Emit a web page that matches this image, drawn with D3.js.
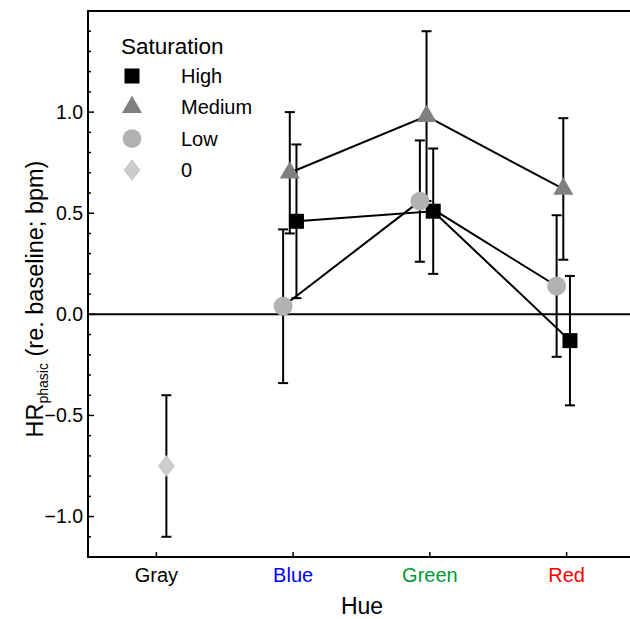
<!DOCTYPE html>
<html>
<head>
<meta charset="utf-8">
<script src="https://cdn.jsdelivr.net/npm/d3@7"></script>
<style>
  body { margin: 0; background: #fff; }
  text { font-family: "Liberation Sans", Arial, sans-serif; }
</style>
</head>
<body>
<div id="chart"></div>
<script>
// categories and groups
var hues = ["Gray", "Blue", "Green", "Red"];
var hueColors = ["#000000", "#0000ff", "#009933", "#ff0000"];
var saturations = ["High", "Medium", "Low", "0"];
var dodgeOrder = ["Low", "Medium", "High", "0"];

// series values: mean, lower and upper error bar ends
var highHue = ["Blue", "Green", "Red"];
var highMean = [0.46, 0.51, -0.13];
var highLow = [0.08, 0.20, -0.45];
var highHigh = [0.84, 0.82, 0.19];

var mediumHue = ["Blue", "Green", "Red"];
var mediumMean = [0.70, 0.98, 0.62];
var mediumLow = [0.40, 0.56, 0.27];
var mediumHigh = [1.00, 1.40, 0.97];

var lowHue = ["Blue", "Green", "Red"];
var lowMean = [0.04, 0.56, 0.14];
var lowLow = [-0.34, 0.26, -0.21];
var lowHigh = [0.42, 0.86, 0.49];

var zeroHue = ["Gray"];
var zeroMean = [-0.75];
var zeroLow = [-1.10];
var zeroHigh = [-0.40];

var yTicks = [-1.0, -0.5, 0.0, 0.5, 1.0];

// set the dimensions and margins
var margin = { top: 11, right: -5, bottom: 62, left: 88 },
    width = 630 - margin.left - margin.right,
    height = 619 - margin.top - margin.bottom;

var svg = d3.select("#chart")
    .append("svg")
    .attr("width", 630)
    .attr("height", 619)
    .append("g")
    .attr("transform", "translate(" + margin.left + "," + margin.top + ")");

var x = d3.scalePoint().domain(hues).range([0, width]).padding(0.5);
var dodge = d3.scalePoint().domain(dodgeOrder).range([-10, 10]);
var y = d3.scaleLinear().domain([-1.2, 1.5]).range([height, 0]);

function build(sat, hs, m, lo, hi) {
    return hs.map(function (h, i) {
        return { sat: sat, hue: h, mean: m[i], lo: lo[i], hi: hi[i] };
    });
}
var series = [
    build("High", highHue, highMean, highLow, highHigh),
    build("Medium", mediumHue, mediumMean, mediumLow, mediumHigh),
    build("Low", lowHue, lowMean, lowLow, lowHigh),
    build("0", zeroHue, zeroMean, zeroLow, zeroHigh)
];
var allPoints = [].concat.apply([], series);

function px(d) { return x(d.hue) + dodge(d.sat); }

var fills = { "High": "#000000", "Medium": "#808080", "Low": "#b2b2b2", "0": "#cccccc" };

function shape(sat) {
    if (sat === "High") return d3.symbol().type(d3.symbolSquare).size(225)();
    if (sat === "Medium") return d3.symbol().type(d3.symbolTriangle).size(175)();
    if (sat === "Low") return d3.symbol().type(d3.symbolCircle).size(280)();
    return "M0,-11L8.5,0L0,11L-8.5,0Z";
}

// zero line
svg.append("line")
    .attr("x1", 0).attr("x2", width)
    .attr("y1", y(0)).attr("y2", y(0))
    .attr("stroke", "black").attr("stroke-width", 2);

// connecting lines
var line = d3.line().x(px).y(function (d) { return y(d.mean); });
svg.selectAll(".series")
    .data(series.filter(function (s) { return s.length > 1; }))
    .enter().append("path")
    .attr("fill", "none")
    .attr("stroke", "black")
    .attr("stroke-width", 2)
    .attr("d", line);

// error bars
var eb = svg.selectAll(".eb").data(allPoints).enter().append("g");
eb.append("line")
    .attr("x1", px).attr("x2", px)
    .attr("y1", function (d) { return y(d.lo); })
    .attr("y2", function (d) { return y(d.hi); })
    .attr("stroke", "black").attr("stroke-width", 2);
eb.append("line")
    .attr("x1", function (d) { return px(d) - 5; })
    .attr("x2", function (d) { return px(d) + 5; })
    .attr("y1", function (d) { return y(d.lo); })
    .attr("y2", function (d) { return y(d.lo); })
    .attr("stroke", "black").attr("stroke-width", 2);
eb.append("line")
    .attr("x1", function (d) { return px(d) - 5; })
    .attr("x2", function (d) { return px(d) + 5; })
    .attr("y1", function (d) { return y(d.hi); })
    .attr("y2", function (d) { return y(d.hi); })
    .attr("stroke", "black").attr("stroke-width", 2);

// markers
svg.selectAll(".pt").data(allPoints).enter().append("path")
    .attr("transform", function (d) { return "translate(" + px(d) + "," + y(d.mean) + ")"; })
    .attr("d", function (d) { return shape(d.sat); })
    .attr("fill", function (d) { return fills[d.sat]; });

// frame: left, top, bottom
svg.append("path")
    .attr("d", "M" + width + ",0H0V" + height + "H" + width)
    .attr("fill", "none").attr("stroke", "black").attr("stroke-width", 2);

// Y axis ticks (inward), minor every 0.1
var minor = d3.range(-12, 16).map(function (v) { return v / 10; })
    .filter(function (v) { return Math.abs(v * 2 - Math.round(v * 2)) > 1e-6; });
svg.selectAll(".ymin").data(minor).enter().append("line")
    .attr("x1", 0).attr("x2", 3)
    .attr("y1", function (d) { return y(d); }).attr("y2", function (d) { return y(d); })
    .attr("stroke", "black").attr("stroke-width", 1.5);
svg.selectAll(".ymaj").data(yTicks).enter().append("line")
    .attr("x1", 0).attr("x2", 6)
    .attr("y1", function (d) { return y(d); }).attr("y2", function (d) { return y(d); })
    .attr("stroke", "black").attr("stroke-width", 1.5);
svg.selectAll(".ylab").data(yTicks).enter().append("text")
    .attr("x", -5)
    .attr("y", function (d) { return y(d) + 6.5; })
    .attr("text-anchor", "end")
    .attr("font-size", 19.5)
    .text(function (d) { return d3.format(".1f")(d).replace("-", "\u2212"); });

// X axis ticks (inward)
svg.selectAll(".xt").data(hues).enter().append("line")
    .attr("x1", function (d) { return x(d); }).attr("x2", function (d) { return x(d); })
    .attr("y1", height).attr("y2", height - 5)
    .attr("stroke", "black").attr("stroke-width", 1.5);
svg.selectAll(".xlab").data(hues).enter().append("text")
    .attr("x", function (d) { return x(d); })
    .attr("y", height + 25)
    .attr("text-anchor", "middle")
    .attr("font-size", 20)
    .attr("fill", function (d, i) { return hueColors[i]; })
    .text(function (d) { return d; });

// axis titles
svg.append("text")
    .attr("x", 362 - margin.left)
    .attr("y", 614 - margin.top)
    .attr("text-anchor", "middle")
    .attr("font-size", 23)
    .text("Hue");

var yTitle = svg.append("text")
    .attr("transform", "translate(" + (43 - margin.left) + "," + (299 - margin.top) + ") rotate(-90)")
    .attr("text-anchor", "middle")
    .attr("font-size", 23.5);
yTitle.append("tspan").text("HR");
yTitle.append("tspan").attr("font-size", 14).attr("dy", 5).text("phasic");
yTitle.append("tspan").attr("dy", -5).text(" (re. baseline; bpm)");

// legend
var legend = svg.append("g").attr("transform", "translate(" + (121 - margin.left) + "," + (54 - margin.top) + ")");
legend.append("text").attr("x", 0).attr("y", 0).attr("font-size", 22.5).text("Saturation");
var items = legend.selectAll(".li").data(saturations).enter().append("g")
    .attr("transform", function (d, i) { return "translate(0," + (22 + i * 31.3) + ")"; });
items.append("path")
    .attr("transform", "translate(11,0)")
    .attr("d", function (d) { return shape(d); })
    .attr("fill", function (d) { return fills[d]; });
items.append("text")
    .attr("x", 60).attr("y", 7)
    .attr("font-size", 20)
    .text(function (d) { return d; });
</script>
</body>
</html>
